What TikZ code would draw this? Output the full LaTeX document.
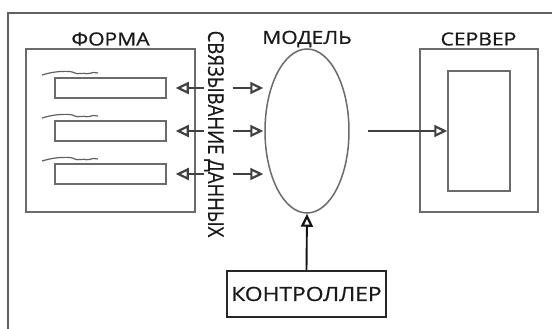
\documentclass[tikz,border=0pt]{standalone}
\usepackage{fontspec}
\setmainfont{Open Sans}
\newfontfamily\lblfont{Open Sans}[FakeBold=0.7]
\usetikzlibrary{arrows.meta,shapes.geometric,calc}
\newcommand{\widetext}[1]{\scalebox{1.17}[1]{#1}}
\begin{document}
\begin{tikzpicture}[x=1pt,y=-1pt,
  frameline/.style={draw=black!62,line width=1.9pt},
  boxline/.style={draw=black!58,line width=1.5pt},
  lbl/.style={font=\lblfont\fontsize{18}{18}\selectfont,text=black!90,inner sep=0pt},
  field/.style={boxline,minimum width=111pt,minimum height=20pt,inner sep=0pt},
  squiggle/.style={draw=black!62,line width=1.2pt},
  tip/.style={-{Triangle[open,length=13pt,width=12pt,line width=2.2pt]}},
  link/.style={draw=black!75,line width=1.3pt,tip},
]
\useasboundingbox (0,0) rectangle (552,329);
\fill[white] (0,0) rectangle (552,329);

% outer frame (only its top and left sides fall inside the page)
\draw[frameline] (8,335) -- (8,13) -- (560,13);

% form with three input fields
\node[boxline,minimum width=169pt,minimum height=163pt,inner sep=0pt] (form) at (110.5,130.5) {};
\node[lbl] (formlbl) at (110.5,39) {\widetext{ФОРМА}};
\node[field] (f1) at (110.5,88) {};
\node[field] (f2) at (110.5,131) {};
\node[field] (f3) at (110.5,174) {};
\foreach \i/\y in {1/72,2/115,3/158}{
  \draw[squiggle] (42,\y+3) .. controls (52,\y) and (60,\y-1) .. (70,\y-0.5)
     .. controls (74,\y) and (76,\y+2.5) .. (80,\y+1.5)
     .. controls (83,\y) and (85,\y+2.5) .. (89,\y+1.5)
     .. controls (92,\y) and (95,\y+0.5) .. (98,\y+1);
}

% model
\node[ellipse,boxline,minimum width=84pt,minimum height=164pt,inner sep=0pt] (model) at (307,131) {};
\node[lbl] (modellbl) at (307,39) {\widetext{МОДЕЛЬ}};

% server
\node[boxline,minimum width=118pt,minimum height=163pt,inner sep=0pt] (server) at (479,130.5) {};
\node[boxline,minimum width=62pt,minimum height=120pt,inner sep=0pt] (srvin) at (479,131) {};
\node[lbl] (serverlbl) at (478.5,39) {\widetext{СЕРВЕР}};

% controller
\node[draw=black!85,line width=1.7pt,minimum width=159pt,minimum height=46pt,inner sep=0pt,
      lbl,font=\lblfont\fontsize{19.5}{19.5}\selectfont] (ctrl) at (306.5,294) {\widetext{КОНТРОЛЛЕР}};

% data binding label
\node[lbl,font=\lblfont\fontsize{18.5}{18.5}\selectfont,rotate=-90] (bind) at (214,134) {\scalebox{1}[1.17]{СВЯЗЫВАНИЕ ДАННЫХ}};

% binding connectors, split by the label
\foreach \f/\dy in {f1/-43,f2/0,f3/43}{
  \coordinate (l\f) at ($(\f.east)+(37,0)$);
  \coordinate (r\f) at ($(\f.east)+(66,0)$);
  \draw[link,shorten >=9pt] (l\f) -- (\f.east);
  \draw[link] (r\f) -- ($(model.west)+(-1,\dy)$);
}

% model to server
\coordinate (ms) at ($(model.east)+(18,0)$);
\draw[link] (ms) -- (srvin.west);

% controller to model
\draw[link,draw=black!92,line width=1.9pt] (ctrl.north) -- (model.south);
\end{tikzpicture}
\end{document}
